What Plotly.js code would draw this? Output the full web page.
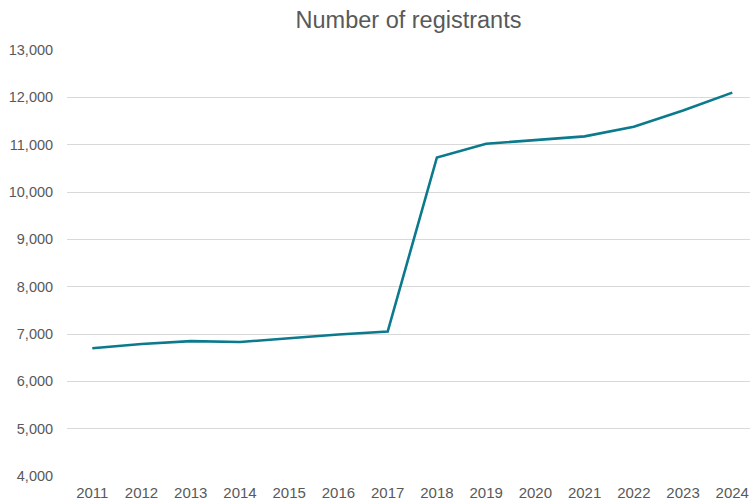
<!DOCTYPE html>
<html>
<head>
<meta charset="utf-8">
<script src="https://cdn.plot.ly/plotly-3.0.1.min.js"></script>
<style>html,body{margin:0;padding:0;background:#fff;}#chart{width:750px;height:502px;}</style>
</head>
<body>
<div id="chart"></div>
<script>
const years = [2011, 2012, 2013, 2014, 2015, 2016, 2017, 2018, 2019, 2020, 2021, 2022, 2023, 2024];
const registrants = [6700, 6790, 6850, 6830, 6910, 6990, 7050, 10730, 11020, 11100, 11175, 11380, 11720, 12100];
const yTicks = [4000, 5000, 6000, 7000, 8000, 9000, 10000, 11000, 12000, 13000];

const trace = {
  x: years, y: registrants, type: 'scatter', mode: 'lines',
  line: {color: '#0a7a8c', width: 2.6},
  hoverinfo: 'x+y'
};
const layout = {
  width: 750, height: 502,
  margin: {l: 67, r: 0, t: 50, b: 26},
  paper_bgcolor: '#fff', plot_bgcolor: '#fff',
  font: {family: 'Liberation Sans, Arial, sans-serif', color: '#595959', size: 14.5},
  title: {text: 'Number of registrants', x: 0.5, xref: 'paper', y: 0.96, yanchor: 'middle',
          font: {size: 23.5, color: '#595959', family: 'Liberation Sans, Arial, sans-serif'}},
  showlegend: false,
  xaxis: {
    type: 'linear', range: [2010.486, 2024.36],
    tickvals: years, ticktext: years.map(String),
    showgrid: false, zeroline: false, showline: false,
    ticks: 'outside', ticklen: 3, tickcolor: 'rgba(0,0,0,0)',
    tickfont: {size: 15, color: '#595959'}
  },
  yaxis: {
    range: [4000, 13000], tickvals: yTicks,
    ticktext: yTicks.map(v => v.toLocaleString('en-US')),
    showgrid: true, gridcolor: '#d9d9d9', gridwidth: 1,
    zeroline: false, showline: false,
    ticks: 'outside', ticklen: 10, tickcolor: 'rgba(0,0,0,0)',
    tickfont: {size: 14.5, color: '#595959'}
  }
};
Plotly.newPlot('chart', [trace], layout, {displayModeBar: false, staticPlot: true});
</script>
</body>
</html>
